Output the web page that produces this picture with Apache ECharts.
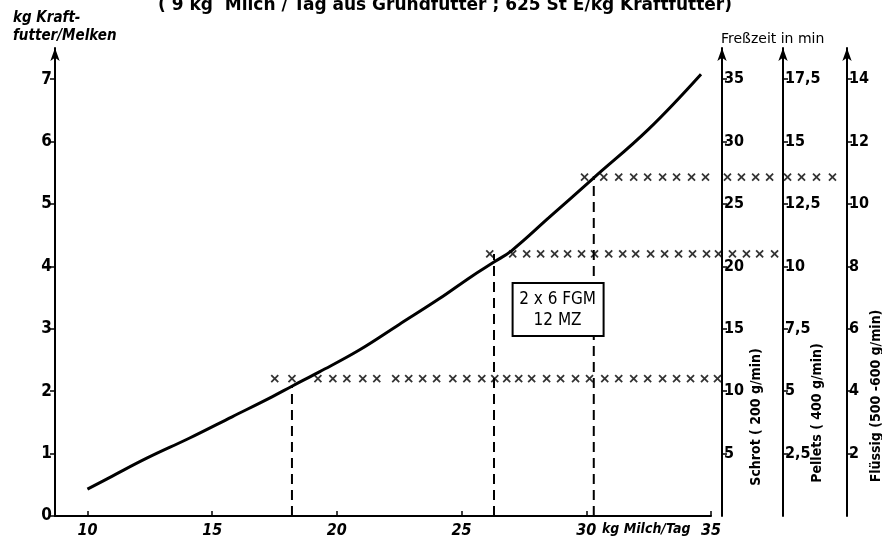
<!DOCTYPE html>
<html>
<head>
<meta charset="utf-8">
<script src="https://cdn.jsdelivr.net/npm/echarts@6/dist/echarts.min.js"></script>
<style>
  html, body { margin: 0; padding: 0; background: #fff; }
  #chart { width: 882px; height: 544px; }
</style>
</head>
<body>
<div id="chart"></div>
<script>
// Kurve: kg Kraftfutter je Melken über kg Milch/Tag
var milch = [10, 11, 12.4, 14.1, 15.8, 17.4, 18.2, 19.3, 20.9, 22.5, 24.1, 25.4, 26.3, 27, 28.5, 30.3, 32.5, 34.6];
var kraftfutter = [0.43, 0.64, 0.93, 1.25, 1.59, 1.91, 2.08, 2.31, 2.66, 3.07, 3.48, 3.84, 4.07, 4.25, 4.78, 5.42, 6.2, 7.08];

// gestrichelte Lote
var lotMilch = [18.2, 26.3, 30.3];
var lotKraft = [2.1, 4.2, 5.45];

// Kreuzreihen (x-Positionen) und ihre Höhe
var reihe1 = [17.51, 18.2, 19.24, 19.84, 20.4, 21.04, 21.6, 22.36, 22.88, 23.44, 24.0, 24.65, 25.21, 25.81, 26.33, 26.81, 27.29, 27.81, 28.41, 28.97, 29.57, 30.13, 30.74, 31.3, 31.9, 32.46, 33.06, 33.62, 34.18, 34.74, 35.26];
var reihe2 = [26.13, 27.05, 27.61, 28.17, 28.73, 29.25, 29.81, 30.33, 30.9, 31.46, 31.98, 32.58, 33.14, 33.7, 34.26, 34.82, 35.3, 35.86, 36.42, 36.95, 37.55];
var reihe3 = [29.93, 30.7, 31.3, 31.9, 32.46, 33.06, 33.62, 34.22, 34.78, 35.66, 36.22, 36.79, 37.35, 38.07, 38.63, 39.23, 39.87];
var reihenHoehe = [2.2, 4.2, 5.43];

// Achsenteilungen
var xTicks = [10, 15, 20, 25, 30, 35];
var yTicks = [0, 1, 2, 3, 4, 5, 6, 7];
var schrotTicks = [5, 10, 15, 20, 25, 30, 35];
var pelletsTicks = [2.5, 5, 7.5, 10, 12.5, 15, 17.5];
var fluessigTicks = [2, 4, 6, 8, 10, 12, 14];

var F = "'DejaVu Sans Condensed','Liberation Sans Narrow','DejaVu Sans',sans-serif";
var chart = echarts.init(document.getElementById('chart'), null, { renderer: 'canvas' });

function rechteAchse(max, ticks, offset, fmt) {
  return {
    type: 'value', position: 'right', offset: offset, min: 0, max: max,
    axisLine: { show: true, lineStyle: { color: '#000', width: 2 }, symbol: ['none', 'arrow'], symbolSize: [7, 13] },
    axisTick: { show: true, length: 5, customValues: ticks, lineStyle: { color: '#000', width: 1.5 } },
    axisLabel: { customValues: ticks, color: '#000', margin: 2, fontFamily: F, fontSize: 16, fontWeight: 'bold', formatter: fmt },
    splitLine: { show: false }
  };
}

var kreuz = 'path://M0,0L10,10M10,0L0,10';
var series = [{
  type: 'line',
  data: milch.map(function (m, i) { return [m, kraftfutter[i]]; }),
  smooth: 0.4, showSymbol: false, silent: true,
  lineStyle: { color: '#000', width: 3 }
}];
lotMilch.forEach(function (m, i) {
  series.push({
    type: 'line', data: [[m, 0], [m, lotKraft[i]]], showSymbol: false, silent: true,
    lineStyle: { color: '#000', width: 2, type: [10, 6] }
  });
});
[reihe1, reihe2, reihe3].forEach(function (reihe, i) {
  series.push({
    type: 'scatter', clip: false, silent: true,
    data: reihe.map(function (m) { return [m, reihenHoehe[i]]; }),
    symbol: kreuz, symbolSize: 7,
    itemStyle: { color: 'none', borderColor: '#000', borderWidth: 1.8 }
  });
});

chart.setOption({
  animation: false,
  grid: { left: 55, right: 171, top: 48, bottom: 28, outerBoundsMode: 'none' },
  xAxis: {
    type: 'value', min: 8.7, max: 35,
    axisLine: { onZero: false, lineStyle: { color: '#000', width: 2 } },
    axisTick: { show: true, inside: true, length: 5, customValues: xTicks, lineStyle: { color: '#000', width: 1.5 } },
    axisLabel: { customValues: xTicks, color: '#000', margin: 7, fontFamily: F, fontSize: 16, fontWeight: 'bold', fontStyle: 'italic' },
    splitLine: { show: false }
  },
  yAxis: [{
    type: 'value', position: 'left', min: 0, max: 7.5,
    axisLine: { show: true, lineStyle: { color: '#000', width: 2 }, symbol: ['none', 'arrow'], symbolSize: [7, 13] },
    axisTick: { show: true, length: 5, customValues: yTicks, lineStyle: { color: '#000', width: 1.5 } },
    axisLabel: { customValues: yTicks, color: '#000', margin: 3, fontFamily: F, fontSize: 17, fontWeight: 'bold' },
    splitLine: { show: false }
  },
    rechteAchse(37.5, schrotTicks, 11),
    rechteAchse(18.75, pelletsTicks, 72, function (v) { return String(v).replace('.', ','); }),
    rechteAchse(15, fluessigTicks, 136)
  ],
  series: series
});

var box = chart.convertToPixel({ xAxisIndex: 0, yAxisIndex: 0 }, [28.85, 3.3]);
var txt = { fill: '#000', fontFamily: F, fontWeight: 'bold' };
chart.setOption({
  graphic: [
    { type: 'text', left: 158, top: -3, style: { text: '( 9 kg  Milch / Tag aus Grundfutter ; 625 St E/kg Kraftfutter)', fill: '#000', fontSize: 17, fontWeight: 'bold', fontFamily: "'DejaVu Sans',sans-serif" } },
    { type: 'text', left: 13, top: 9, style: Object.assign({}, txt, { text: 'kg Kraft-\nfutter/Melken', fontSize: 15, lineHeight: 18, fontStyle: 'italic' }) },
    { type: 'text', left: 721, top: 32, style: Object.assign({}, txt, { text: 'Freßzeit in min', fontSize: 14, fontWeight: 'normal', fontFamily: "'DejaVu Sans',sans-serif" }) },
    { type: 'text', left: 602, top: 522, style: Object.assign({}, txt, { text: 'kg Milch/Tag', fontSize: 14, fontStyle: 'italic' }) },
    { type: 'text', x: 756, y: 417, rotation: Math.PI / 2, style: Object.assign({}, txt, { text: 'Schrot ( 200 g/min)', fontSize: 14, align: 'center', verticalAlign: 'middle' }) },
    { type: 'text', x: 817, y: 413, rotation: Math.PI / 2, style: Object.assign({}, txt, { text: 'Pellets ( 400 g/min)', fontSize: 14, align: 'center', verticalAlign: 'middle' }) },
    { type: 'text', x: 876, y: 396, rotation: Math.PI / 2, style: Object.assign({}, txt, { text: 'Flüssig (500 -600 g/min)', fontSize: 14, align: 'center', verticalAlign: 'middle' }) },
    { type: 'rect', shape: { x: box[0] - 45, y: box[1] - 27, width: 91, height: 53 }, style: { fill: '#fff', stroke: '#000', lineWidth: 2 }, z: 10 },
    { type: 'text', x: box[0], y: box[1], z: 11, style: Object.assign({}, txt, { text: '2 x 6 FGM\n12 MZ', fontSize: 17, lineHeight: 21, align: 'center', verticalAlign: 'middle', fontWeight: 'normal' }) }
  ]
});
</script>
</body>
</html>
